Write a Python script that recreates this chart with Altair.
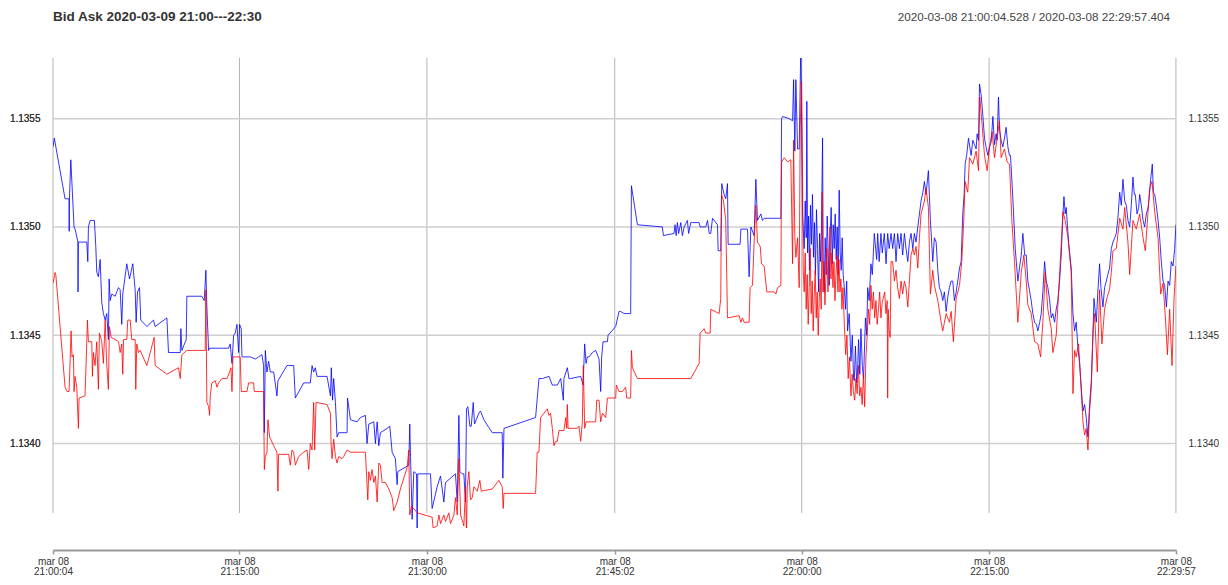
import altair as alt
import pandas as pd

# ---------------- data (minutes after 21:00:00, price) ----------------
ASK = [
    (0.08, 1.13537), (0.18, 1.13541), (1.04, 1.13513), (1.36, 1.13513), (1.37, 1.13498), (1.39, 1.13513),
    (1.50, 1.13531), (1.76, 1.13500), (1.84, 1.13499), (2.07, 1.13493), (2.08, 1.13470), (2.10, 1.13493),
    (2.78, 1.13493), (2.86, 1.13484), (2.91, 1.13500), (3.05, 1.13503), (3.39, 1.13503), (3.50, 1.13491),
    (3.58, 1.13479), (3.71, 1.13477), (3.85, 1.13485), (3.98, 1.13465), (4.11, 1.13460), (4.25, 1.13457),
    (4.38, 1.13460), (4.51, 1.13448), (4.57, 1.13476), (4.65, 1.13466), (4.78, 1.13469), (5.05, 1.13468),
    (5.18, 1.13470), (5.32, 1.13472), (5.45, 1.13471), (5.58, 1.13455), (5.66, 1.13469), (5.98, 1.13483),
    (6.20, 1.13476), (6.46, 1.13483), (6.65, 1.13471), (6.73, 1.13456), (6.84, 1.13470), (7.00, 1.13472),
    (7.10, 1.13457), (7.59, 1.13454), (8.12, 1.13457), (8.25, 1.13454), (9.19, 1.13458), (9.32, 1.13442),
    (10.26, 1.13442), (10.31, 1.13453), (10.39, 1.13443), (10.74, 1.13448), (10.79, 1.13468), (11.99, 1.13468),
    (12.18, 1.13466), (12.31, 1.13480), (12.39, 1.13463), (12.53, 1.13443), (12.61, 1.13444), (14.13, 1.13444),
    (14.26, 1.13446), (14.40, 1.13437), (14.53, 1.13450), (14.66, 1.13451), (14.80, 1.13455), (14.93, 1.13442),
    (15.01, 1.13455), (15.14, 1.13453), (15.20, 1.13440), (15.33, 1.13440), (15.87, 1.13440), (16.27, 1.13439),
    (16.53, 1.13440), (16.80, 1.13441), (16.93, 1.13436), (16.99, 1.13405), (17.07, 1.13443), (17.20, 1.13433),
    (17.33, 1.13438), (17.47, 1.13433), (17.74, 1.13433), (18.00, 1.13422), (18.08, 1.13429), (18.80, 1.13436),
    (18.94, 1.13436), (19.34, 1.13436), (19.47, 1.13421), (20.14, 1.13428), (20.67, 1.13428), (20.81, 1.13436),
    (20.94, 1.13433), (21.07, 1.13435), (21.21, 1.13431), (22.01, 1.13431), (22.28, 1.13422),
    (22.35, 1.13435), (22.45, 1.13420), (22.54, 1.13430), (22.68, 1.13419), (22.81, 1.13403), (22.94, 1.13405),
    (23.61, 1.13405), (23.65, 1.13421), (23.88, 1.13411), (24.41, 1.13410), (24.68, 1.13412), (25.08, 1.13413),
    (25.21, 1.13400), (25.35, 1.13409), (25.75, 1.13410), (25.88, 1.13400), (26.02, 1.13410), (26.15, 1.13399),
    (26.28, 1.13405), (26.82, 1.13407), (27.03, 1.13408), (27.22, 1.13396), (27.48, 1.13393), (27.62, 1.13381),
    (27.67, 1.13387), (28.55, 1.13390), (28.63, 1.13409), (28.69, 1.13394), (28.82, 1.13365), (28.95, 1.13387),
    (29.17, 1.13386), (29.22, 1.13361), (29.27, 1.13386), (30.29, 1.13386), (30.42, 1.13370), (30.82, 1.13380),
    (31.09, 1.13385), (31.36, 1.13373), (31.49, 1.13382), (32.29, 1.13386), (32.43, 1.13373), (32.56, 1.13413),
    (32.64, 1.13387), (32.83, 1.13386), (32.96, 1.13386), (33.09, 1.13373), (33.17, 1.13416), (33.28, 1.13417),
    (33.44, 1.13408), (33.55, 1.13408), (33.71, 1.13419), (33.81, 1.13409), (34.16, 1.13414), (34.29, 1.13415),
    (34.56, 1.13411), (35.23, 1.13405), (36.03, 1.13405), (36.08, 1.13384), (36.17, 1.13407), (38.70, 1.13412),
    (38.97, 1.13430), (39.24, 1.13430), (39.77, 1.13431), (40.04, 1.13427), (40.44, 1.13427), (40.71, 1.13430),
    (40.92, 1.13420), (40.97, 1.13430), (41.24, 1.13435), (41.37, 1.13430), (41.51, 1.13430), (42.31, 1.13431),
    (42.50, 1.13427), (42.63, 1.13446), (42.74, 1.13437), (42.84, 1.13440), (42.98, 1.13440), (43.24, 1.13442),
    (43.51, 1.13443), (43.78, 1.13439), (43.91, 1.13424), (43.99, 1.13440), (44.10, 1.13447), (44.45, 1.13447),
    (44.50, 1.13450), (45.11, 1.13454), (45.38, 1.13461),
    (45.51, 1.13461), (45.78, 1.13460), (46.31, 1.13460), (46.37, 1.13519), (46.85, 1.13501), (48.85, 1.13500),
    (48.93, 1.13496), (49.78, 1.13497), (49.86, 1.13501), (49.95, 1.13496), (50.05, 1.13502), (50.15, 1.13497),
    (50.32, 1.13502), (50.45, 1.13496), (50.59, 1.13500), (50.85, 1.13503), (50.95, 1.13497), (51.12, 1.13502),
    (51.25, 1.13502), (51.79, 1.13502), (51.87, 1.13500), (52.32, 1.13500), (52.46, 1.13503), (52.60, 1.13497),
    (52.72, 1.13497), (52.86, 1.13504), (53.26, 1.13501), (53.31, 1.13489), (53.52, 1.13489), (53.60, 1.13520),
    (53.79, 1.13515), (53.92, 1.13513), (54.06, 1.13520), (54.11, 1.13492), (55.07, 1.13492), (55.13, 1.13499),
    (55.66, 1.13499), (55.79, 1.13477), (55.93, 1.13500), (56.19, 1.13496), (56.33, 1.13522), (56.46, 1.13503),
    (56.73, 1.13506), (56.86, 1.13503), (56.99, 1.13504), (58.33, 1.13504), (58.39, 1.13550), (58.47, 1.13551),
    (59.00, 1.13550), (59.27, 1.13549), (59.35, 1.13568), (59.45, 1.13535), (59.53, 1.13568), (59.67, 1.13536),
    (59.80, 1.13536), (59.93, 1.13585),
    (60.07, 1.13505), (60.20, 1.13490), (60.28, 1.13512), (60.36, 1.13495), (60.41, 1.13558), (60.47, 1.13488),
    (60.55, 1.13505), (60.62, 1.13480), (60.70, 1.13510), (60.78, 1.13492), (60.86, 1.13515), (60.94, 1.13486),
    (61.02, 1.13502), (61.10, 1.13478), (61.18, 1.13508), (61.27, 1.13490), (61.35, 1.13470), (61.43, 1.13497),
    (61.50, 1.13484), (61.58, 1.13500), (61.67, 1.13541), (61.72, 1.13482), (61.80, 1.13470), (61.88, 1.13495),
    (61.96, 1.13478), (62.04, 1.13505), (62.12, 1.13488), (62.20, 1.13473), (62.28, 1.13497), (62.36, 1.13509),
    (62.44, 1.13483), (62.52, 1.13501), (62.60, 1.13490), (62.68, 1.13506), (62.76, 1.13485), (62.84, 1.13500),
    (62.92, 1.13478), (63.00, 1.13517), (63.08, 1.13488), (63.16, 1.13480), (63.24, 1.13495), (63.32, 1.13478),
    (63.41, 1.13472), (63.50, 1.13462), (63.60, 1.13475), (63.67, 1.13452), (63.80, 1.13460), (63.94, 1.13438),
    (64.05, 1.13450), (64.15, 1.13430), (64.21, 1.13429), (64.30, 1.13445), (64.40, 1.13428), (64.47, 1.13433),
    (64.55, 1.13448), (64.65, 1.13432), (64.74, 1.13453), (64.85, 1.13436), (64.95, 1.13430), (65.01, 1.13441),
    (65.10, 1.13458), (65.20, 1.13450), (65.28, 1.13472), (65.40, 1.13466), (65.54, 1.13483), (65.65, 1.13478),
    (65.81, 1.13497), (66.00, 1.13485), (66.08, 1.13497), (66.20, 1.13484), (66.34, 1.13497), (66.45, 1.13488),
    (66.61, 1.13497), (66.75, 1.13483), (66.88, 1.13497), (67.00, 1.13490), (67.15, 1.13497),
    (67.28, 1.13490), (67.42, 1.13497), (67.55, 1.13484), (67.68, 1.13497), (67.82, 1.13490), (67.95, 1.13497),
    (68.08, 1.13487), (68.22, 1.13497), (68.35, 1.13490), (68.49, 1.13484), (68.62, 1.13493), (68.75, 1.13497),
    (68.89, 1.13490), (69.02, 1.13497), (69.15, 1.13493), (69.29, 1.13500), (69.42, 1.13506), (69.55, 1.13512),
    (69.70, 1.13516), (69.82, 1.13521), (69.95, 1.13515), (70.14, 1.13526), (70.30, 1.13503), (70.49, 1.13484),
    (70.62, 1.13495), (70.76, 1.13493), (70.89, 1.13480), (71.02, 1.13472), (71.16, 1.13470), (71.29, 1.13466),
    (71.42, 1.13470), (71.56, 1.13461), (71.70, 1.13468), (71.82, 1.13472), (71.96, 1.13475), (72.09, 1.13475),
    (72.22, 1.13466), (72.36, 1.13470), (72.49, 1.13475), (72.63, 1.13481), (72.76, 1.13484), (72.89, 1.13506),
    (73.00, 1.13515), (73.08, 1.13529), (73.20, 1.13533), (73.35, 1.13541), (73.45, 1.13537), (73.56, 1.13533),
    (73.69, 1.13540), (73.83, 1.13538), (73.96, 1.13536), (74.04, 1.13543), (74.15, 1.13540), (74.23, 1.13566),
    (74.36, 1.13561), (74.45, 1.13555), (74.63, 1.13541), (74.75, 1.13537), (74.90, 1.13533), (75.03, 1.13537),
    (75.16, 1.13539), (75.30, 1.13551), (75.43, 1.13538), (75.56, 1.13543), (75.64, 1.13540), (75.75, 1.13560),
    (75.83, 1.13545), (75.96, 1.13540), (76.10, 1.13537), (76.23, 1.13541), (76.36, 1.13546), (76.50, 1.13537),
    (76.63, 1.13533), (76.71, 1.13533), (76.90, 1.13513), (77.09, 1.13490), (77.30, 1.13475), (77.45, 1.13482),
    (77.57, 1.13487), (77.70, 1.13497), (77.85, 1.13487), (77.97, 1.13487), (78.10, 1.13475), (78.25, 1.13470),
    (78.37, 1.13466), (78.50, 1.13460), (78.64, 1.13456), (78.78, 1.13455), (78.90, 1.13452), (79.05, 1.13456),
    (79.17, 1.13460), (79.30, 1.13470), (79.44, 1.13484), (79.57, 1.13475), (79.70, 1.13472), (79.85, 1.13466),
    (79.97, 1.13458), (80.10, 1.13460), (80.24, 1.13456), (80.37, 1.13462), (80.50, 1.13466), (80.64, 1.13475),
    (80.77, 1.13487), (80.91, 1.13506), (80.99, 1.13514), (81.09, 1.13506), (81.17, 1.13509), (81.36, 1.13493),
    (81.57, 1.13481), (81.71, 1.13460), (81.84, 1.13452), (81.97, 1.13456), (82.11, 1.13444), (82.24, 1.13437),
    (82.37, 1.13426), (82.51, 1.13415), (82.64, 1.13418), (82.77, 1.13412), (82.91, 1.13403), (83.04, 1.13418),
    (83.18, 1.13429), (83.31, 1.13450), (83.39, 1.13467), (83.58, 1.13456), (83.70, 1.13470), (83.84, 1.13483),
    (83.95, 1.13472), (84.11, 1.13463), (84.24, 1.13472), (84.38, 1.13475), (84.50, 1.13478), (84.64, 1.13481),
    (84.78, 1.13490), (84.91, 1.13493), (85.05, 1.13495), (85.18, 1.13497), (85.32, 1.13505), (85.45, 1.13516),
    (85.58, 1.13510), (85.71, 1.13522), (85.85, 1.13512), (85.98, 1.13510), (86.11, 1.13503), (86.25, 1.13500),
    (86.38, 1.13510), (86.51, 1.13523), (86.62, 1.13515), (86.70, 1.13515), (86.84, 1.13506), (86.97, 1.13509),
    (87.05, 1.13515), (87.18, 1.13510), (87.32, 1.13503), (87.45, 1.13500), (87.58, 1.13506), (87.72, 1.13509),
    (87.85, 1.13516), (87.93, 1.13522), (88.06, 1.13529), (88.15, 1.13516), (88.25, 1.13515), (88.38, 1.13510),
    (88.52, 1.13503), (88.65, 1.13495), (88.78, 1.13484), (88.92, 1.13475), (89.05, 1.13473), (89.19, 1.13463),
    (89.32, 1.13475), (89.45, 1.13473), (89.58, 1.13484), (89.72, 1.13482), (89.85, 1.13490), (89.95, 1.13501),
]

BID = [
    (0.08, 1.13474), (0.24, 1.13479), (0.30, 1.13478), (1.04, 1.13426), (1.20, 1.13424), (1.36, 1.13424),
    (1.45, 1.13439), (1.52, 1.13452), (1.60, 1.13440), (1.71, 1.13441), (1.76, 1.13424), (1.84, 1.13431),
    (1.98, 1.13426), (2.11, 1.13407), (2.16, 1.13421), (2.64, 1.13422), (2.78, 1.13447), (2.83, 1.13457),
    (2.91, 1.13447), (3.18, 1.13447), (3.23, 1.13431), (3.31, 1.13442), (3.44, 1.13436), (3.58, 1.13447),
    (3.71, 1.13425), (3.79, 1.13451), (3.98, 1.13447), (4.11, 1.13437), (4.25, 1.13457), (4.38, 1.13436),
    (4.51, 1.13425), (4.59, 1.13454), (4.73, 1.13449), (5.05, 1.13448), (5.32, 1.13447), (5.45, 1.13442),
    (5.58, 1.13446), (5.66, 1.13432), (5.72, 1.13448), (5.98, 1.13448), (6.06, 1.13457), (6.25, 1.13457),
    (6.38, 1.13448), (6.65, 1.13448), (6.70, 1.13425), (6.78, 1.13446), (6.92, 1.13442), (7.05, 1.13443),
    (7.59, 1.13436), (8.17, 1.13449), (8.25, 1.13436), (9.19, 1.13432), (10.12, 1.13435), (10.26, 1.13430),
    (10.39, 1.13441), (10.79, 1.13443), (11.59, 1.13443), (12.26, 1.13443), (12.31, 1.13471), (12.39, 1.13419),
    (12.53, 1.13417), (12.61, 1.13413), (12.66, 1.13422), (12.79, 1.13428), (13.06, 1.13429), (13.20, 1.13426),
    (13.33, 1.13428), (13.60, 1.13430), (14.00, 1.13430), (14.21, 1.13433), (14.32, 1.13435), (14.40, 1.13424),
    (14.48, 1.13440), (15.06, 1.13440), (15.14, 1.13424), (15.60, 1.13424), (15.73, 1.13428), (16.13, 1.13428),
    (16.19, 1.13424), (16.93, 1.13424), (16.99, 1.13388), (17.07, 1.13394), (17.20, 1.13396), (17.28, 1.13411),
    (17.41, 1.13403), (17.74, 1.13399), (18.00, 1.13396), (18.08, 1.13378), (18.13, 1.13395), (18.94, 1.13395),
    (19.07, 1.13390), (19.20, 1.13397), (19.34, 1.13396), (19.47, 1.13390), (19.74, 1.13394), (20.14, 1.13396),
    (20.41, 1.13397), (20.54, 1.13388), (20.67, 1.13400), (20.81, 1.13397), (20.94, 1.13419), (21.02, 1.13397),
    (21.13, 1.13419), (22.01, 1.13418), (22.28, 1.13414),
    (22.33, 1.13400), (22.41, 1.13393), (22.54, 1.13402), (22.68, 1.13394), (22.81, 1.13391), (22.94, 1.13394),
    (23.21, 1.13393), (23.34, 1.13394), (23.61, 1.13397), (23.88, 1.13396), (25.08, 1.13396), (25.27, 1.13374),
    (25.35, 1.13387), (25.48, 1.13383), (25.61, 1.13388), (25.75, 1.13382), (25.88, 1.13385), (26.02, 1.13373),
    (26.15, 1.13391), (26.28, 1.13390), (26.42, 1.13382), (26.68, 1.13382), (26.95, 1.13379), (27.22, 1.13375),
    (27.35, 1.13369), (27.62, 1.13373), (27.88, 1.13379), (28.42, 1.13389), (28.55, 1.13397), (28.63, 1.13367),
    (28.77, 1.13371), (28.95, 1.13370), (29.22, 1.13368), (30.42, 1.13366), (30.50, 1.13361), (30.82, 1.13362),
    (30.96, 1.13367), (31.09, 1.13363), (31.36, 1.13367), (31.49, 1.13364), (31.76, 1.13368), (31.89, 1.13363),
    (32.16, 1.13367), (32.29, 1.13375), (32.43, 1.13367), (32.56, 1.13393), (32.70, 1.13367), (32.96, 1.13362),
    (33.09, 1.13380), (33.17, 1.13358), (33.23, 1.13380), (33.36, 1.13387), (33.49, 1.13374), (33.63, 1.13375),
    (33.76, 1.13380), (34.03, 1.13378), (34.24, 1.13383), (34.35, 1.13378), (35.23, 1.13379), (35.76, 1.13383),
    (36.03, 1.13380), (36.11, 1.13370), (36.17, 1.13377), (38.70, 1.13377), (38.83, 1.13396), (38.97, 1.13396),
    (39.10, 1.13412), (39.64, 1.13416), (39.77, 1.13413), (39.90, 1.13414), (40.04, 1.13407), (40.17, 1.13399),
    (40.30, 1.13401), (40.44, 1.13401), (40.57, 1.13406), (40.97, 1.13406), (41.11, 1.13412), (41.19, 1.13407),
    (41.24, 1.13418), (41.30, 1.13407), (41.64, 1.13407), (42.04, 1.13407), (42.17, 1.13408), (42.31, 1.13401),
    (42.44, 1.13410), (42.52, 1.13436), (42.63, 1.13407), (42.74, 1.13410), (43.51, 1.13410), (43.59, 1.13420),
    (43.78, 1.13420), (43.91, 1.13410), (44.05, 1.13414), (44.31, 1.13412), (44.45, 1.13421), (45.11, 1.13421),
    (45.16, 1.13427), (45.38, 1.13424),
    (45.64, 1.13424), (45.91, 1.13426), (45.99, 1.13421), (46.31, 1.13421), (46.37, 1.13443), (46.45, 1.13435),
    (46.85, 1.13430), (51.12, 1.13430), (51.79, 1.13437), (51.87, 1.13451), (52.19, 1.13453), (52.32, 1.13451),
    (52.67, 1.13451), (52.72, 1.13462), (53.39, 1.13460), (53.52, 1.13467), (53.58, 1.13515), (53.74, 1.13512),
    (53.92, 1.13503), (54.06, 1.13458), (54.99, 1.13459), (55.13, 1.13456), (55.26, 1.13458), (55.39, 1.13456),
    (55.79, 1.13456), (55.87, 1.13472), (56.06, 1.13473), (56.19, 1.13493), (56.33, 1.13510), (56.46, 1.13493),
    (56.68, 1.13491), (56.78, 1.13483), (56.99, 1.13482), (57.21, 1.13470), (57.80, 1.13470), (57.93, 1.13469),
    (58.07, 1.13472), (58.33, 1.13473), (58.39, 1.13530), (58.60, 1.13532), (58.87, 1.13530), (59.13, 1.13531),
    (59.27, 1.13483), (59.35, 1.13540), (59.45, 1.13495), (59.53, 1.13486), (59.67, 1.13495), (59.80, 1.13472),
    (59.88, 1.13546), (59.99, 1.13567), (60.07, 1.13520),
    (60.12, 1.13480), (60.20, 1.13470), (60.28, 1.13488), (60.36, 1.13462), (60.44, 1.13478), (60.52, 1.13455),
    (60.60, 1.13472), (60.68, 1.13490), (60.76, 1.13460), (60.84, 1.13475), (60.92, 1.13452), (61.00, 1.13468),
    (61.08, 1.13480), (61.16, 1.13458), (61.24, 1.13470), (61.32, 1.13450), (61.40, 1.13466), (61.48, 1.13476),
    (61.56, 1.13462), (61.64, 1.13516), (61.70, 1.13470), (61.78, 1.13484), (61.86, 1.13464), (61.94, 1.13478),
    (62.02, 1.13490), (62.10, 1.13470), (62.18, 1.13482), (62.26, 1.13500), (62.34, 1.13476), (62.42, 1.13488),
    (62.50, 1.13472), (62.58, 1.13484), (62.66, 1.13466), (62.74, 1.13478), (62.82, 1.13487), (62.90, 1.13470),
    (62.98, 1.13485), (63.06, 1.13470), (63.14, 1.13476), (63.22, 1.13462), (63.30, 1.13472), (63.41, 1.13455),
    (63.52, 1.13441), (63.62, 1.13450), (63.72, 1.13430), (63.82, 1.13440), (63.94, 1.13422), (64.04, 1.13432),
    (64.14, 1.13424), (64.24, 1.13420), (64.34, 1.13430), (64.44, 1.13423), (64.54, 1.13436), (64.64, 1.13422),
    (64.74, 1.13426), (64.84, 1.13418), (64.94, 1.13432), (65.04, 1.13417), (65.14, 1.13440), (65.24, 1.13450),
    (65.34, 1.13462), (65.44, 1.13455), (65.54, 1.13473), (65.64, 1.13462), (65.74, 1.13470), (65.84, 1.13458),
    (65.94, 1.13466), (66.04, 1.13455), (66.14, 1.13462), (66.24, 1.13470), (66.34, 1.13458), (66.44, 1.13465),
    (66.64, 1.13470), (66.74, 1.13460), (66.84, 1.13466), (66.88, 1.13421), (66.92, 1.13462), (67.00, 1.13452),
    (67.08, 1.13449), (67.15, 1.13484),
    (67.28, 1.13484), (67.42, 1.13475), (67.55, 1.13480), (67.68, 1.13472), (67.82, 1.13467), (67.95, 1.13475),
    (68.08, 1.13469), (68.22, 1.13475), (68.35, 1.13472), (68.49, 1.13463), (68.62, 1.13475), (68.75, 1.13487),
    (68.89, 1.13490), (69.02, 1.13487), (69.15, 1.13491), (69.29, 1.13481), (69.42, 1.13495), (69.55, 1.13506),
    (69.82, 1.13512), (69.95, 1.13518), (70.14, 1.13509), (70.30, 1.13469), (70.49, 1.13480), (70.62, 1.13473),
    (70.89, 1.13466), (71.16, 1.13456), (71.29, 1.13452), (71.56, 1.13460), (71.82, 1.13456), (71.96, 1.13461),
    (72.14, 1.13447), (72.36, 1.13467), (72.63, 1.13473), (72.81, 1.13484), (72.97, 1.13503), (73.08, 1.13521),
    (73.29, 1.13516), (73.43, 1.13532), (73.69, 1.13529), (73.96, 1.13535), (74.15, 1.13526), (74.25, 1.13560),
    (74.41, 1.13549), (74.63, 1.13533), (74.84, 1.13526), (75.03, 1.13537), (75.24, 1.13544), (75.43, 1.13532),
    (75.64, 1.13541), (75.83, 1.13549), (75.96, 1.13532), (76.23, 1.13536), (76.44, 1.13530), (76.63, 1.13529),
    (76.82, 1.13503), (77.03, 1.13484), (77.30, 1.13456), (77.57, 1.13479), (77.78, 1.13487), (77.97, 1.13475),
    (78.10, 1.13464), (78.37, 1.13460), (78.64, 1.13447), (78.90, 1.13446), (79.12, 1.13440), (79.30, 1.13456),
    (79.49, 1.13479), (79.70, 1.13462), (79.97, 1.13453), (80.10, 1.13442), (80.37, 1.13450), (80.64, 1.13478),
    (80.91, 1.13507), (81.09, 1.13503), (81.31, 1.13495), (81.57, 1.13479), (81.71, 1.13423), (81.84, 1.13443),
    (81.97, 1.13440), (82.16, 1.13446), (82.32, 1.13430), (82.51, 1.13410), (82.64, 1.13404), (82.77, 1.13407),
    (82.91, 1.13397), (83.04, 1.13415), (83.18, 1.13426), (83.31, 1.13452), (83.44, 1.13460), (83.66, 1.13433),
    (83.84, 1.13471), (84.03, 1.13446), (84.24, 1.13462), (84.46, 1.13468), (84.64, 1.13471), (84.78, 1.13479),
    (84.91, 1.13489), (85.18, 1.13490), (85.45, 1.13504), (85.71, 1.13499), (85.85, 1.13509), (86.11, 1.13493),
    (86.25, 1.13478), (86.51, 1.13503), (86.78, 1.13499), (87.05, 1.13506), (87.32, 1.13495), (87.50, 1.13489),
    (87.72, 1.13507), (87.85, 1.13518), (88.04, 1.13521), (88.25, 1.13507), (88.52, 1.13495), (88.73, 1.13469),
    (88.92, 1.13474), (89.10, 1.13459), (89.27, 1.13441), (89.45, 1.13462), (89.64, 1.13436), (89.80, 1.13467),
    (89.95, 1.13482),
]

TICK_TIMES = ["21:00:04.528", "21:15:00", "21:30:00", "21:45:02", "22:00:00", "22:15:00", "22:29:57"]
Y_TICKS = [1.1340, 1.1345, 1.1350, 1.1355]
DAY = "2020-03-08"
TITLE = "Bid Ask  2020-03-09 21:00---22:30"
SUBTITLE = "2020-03-08 21:00:04.528 / 2020-03-08 22:29:57.404"
Y_DOMAIN = [1.13361, 1.13578]

# ---------------- build tables ----------------
base = pd.Timestamp(DAY + " 21:00:00")


def frame(pairs):
    df = pd.DataFrame(pairs, columns=["minute", "price"])
    df["time"] = base + pd.to_timedelta(df["minute"], unit="m")
    return df[["time", "price"]]


ask_df = frame(ASK)
bid_df = frame(BID)
ticks_df = pd.DataFrame({"time": pd.to_datetime([DAY + " " + t for t in TICK_TIMES], format="mixed")})
ygrid_df = pd.DataFrame({"price": Y_TICKS})


def dt(h, m, s, ms=0):
    return alt.DateTime(year=2020, month=3, date=8, hours=h, minutes=m, seconds=s, milliseconds=ms)


tick_dts = []
for t in TICK_TIMES:
    h, m, s = t.split(":")
    sec = float(s)
    tick_dts.append(dt(int(h), int(m), int(sec), int(round((sec - int(sec)) * 1000))))

x_scale = alt.Scale(domain=[dt(21, 0, 4, 528), dt(22, 29, 57, 404)])
y_scale = alt.Scale(domain=Y_DOMAIN, nice=False, zero=False)

W, H = 1123, 470
FONT = "Liberation Sans"


def x_axis():
    return alt.Axis(
        values=tick_dts, labelExpr="['mar 08', timeFormat(datum.value, '%H:%M:%S')]",
        title=None, grid=False, offset=22, domainColor="#9a9a9a", domainWidth=2,
        tickColor="#9a9a9a", tickSize=4, tickWidth=1.5, labelFontSize=10, labelColor="#333333",
        labelFont=FONT, labelPadding=2, labelLineHeight=10.5, labelBaseline="top", labelFlush=False,
        labelOverlap=False,
    )


# vertical grid lines
vgrid = alt.Chart(ticks_df).mark_rule(color="#b4b4b4", strokeWidth=1).encode(
    x=alt.X("time:T", scale=x_scale, axis=x_axis()),
    y=alt.value(0), y2=alt.value(455),
)

# horizontal grid lines with right-side labels
hgrid = alt.Chart(ygrid_df).mark_rule(color="#cfcfcf", strokeWidth=1.5).encode(
    y=alt.Y("price:Q", scale=y_scale, axis=alt.Axis(
        orient="right", values=Y_TICKS, format=".4f", title=None, grid=False, domain=False,
        ticks=False, labelPadding=12, labelFontSize=10, labelColor="#333333", labelFont=FONT)),
    x=alt.value(0), x2=alt.value(W),
)

left_axis = alt.Axis(
    orient="left", values=Y_TICKS, format=".4f", title=None, grid=False, domain=False,
    ticks=False, labelPadding=13, labelFontSize=10, labelColor="#333333", labelFont=FONT)

ask_line = alt.Chart(ask_df).mark_line(color="#0000ff", strokeWidth=1, opacity=0.8, clip=True).encode(
    x=alt.X("time:T", scale=x_scale, axis=x_axis()),
    y=alt.Y("price:Q", scale=y_scale, axis=left_axis),
)

bid_line = alt.Chart(bid_df).mark_line(color="#ff0000", strokeWidth=1, opacity=0.8, clip=True).encode(
    x=alt.X("time:T", scale=x_scale, axis=x_axis()),
    y=alt.Y("price:Q", scale=y_scale, axis=left_axis),
)

title_txt = alt.Chart(pd.DataFrame({"t": [TITLE]})).mark_text(
    align="left", baseline="middle", fontSize=13.5, fontWeight="bold", font=FONT, color="#333333"
).encode(text="t:N", x=alt.value(0), y=alt.value(-41))

sub_txt = alt.Chart(pd.DataFrame({"t": [SUBTITLE]})).mark_text(
    align="right", baseline="middle", fontSize=11.7, font=FONT, color="#444444"
).encode(text="t:N", x=alt.value(W - 6), y=alt.value(-41))

chart = (
    alt.layer(vgrid, hgrid, ask_line, bid_line, title_txt, sub_txt)
    .resolve_axis(y="independent")
    .properties(width=W, height=H, background="white",
                autosize=alt.AutoSizeParams(type="none"),
                padding={"left": 45, "top": 50, "right": 44, "bottom": 49})
    .configure_view(stroke=None, strokeWidth=0)
)

chart.save("out.html", embed_options={"renderer": "svg", "actions": False})
